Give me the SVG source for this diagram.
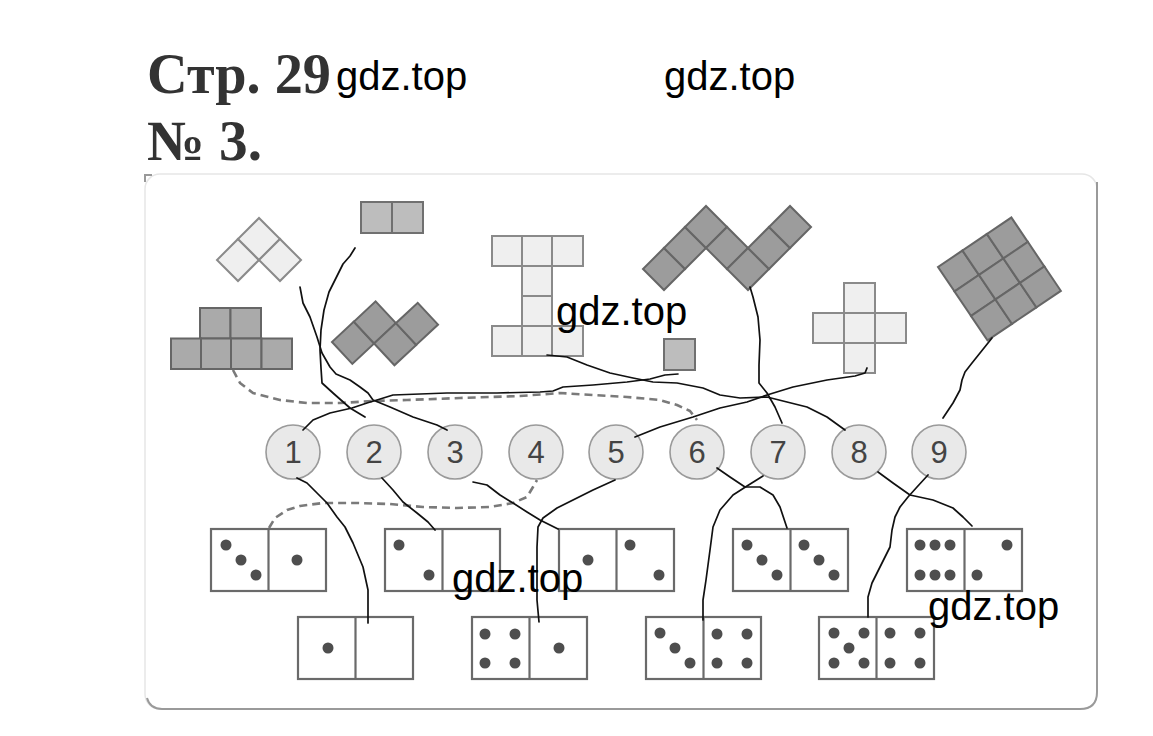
<svg xmlns="http://www.w3.org/2000/svg" width="1153" height="736" viewBox="0 0 1153 736">
<style>
.title{font-family:"Liberation Serif","Times New Roman",serif;font-weight:bold;fill:#333}
.wm{font-family:"Liberation Sans",Arial,sans-serif;font-size:40px;fill:#000}
.lt{fill:#efefef;stroke:#8a8a8a;stroke-width:2}
.g1{fill:#bdbdbd;stroke:#707070;stroke-width:2}
.g2{fill:#aaaaaa;stroke:#666;stroke-width:2}
.g3{fill:#9c9c9c;stroke:#666;stroke-width:2}
.num circle{fill:#e9e9e9;stroke:#9a9a9a;stroke-width:1.6}
.num text{font-family:"Liberation Sans",Arial,sans-serif;font-size:31px;fill:#444;text-anchor:middle}
.dom rect,.dom line{fill:#fff;stroke:#6a6a6a;stroke-width:2.2}
.dom circle{fill:#4e4e4e}
.cn path{fill:none;stroke:#111;stroke-width:1.7;stroke-linejoin:round;stroke-linecap:round}
.cn path.d{stroke:#7a7a7a;stroke-width:2.6;stroke-dasharray:8 5;stroke-linecap:butt}
</style>

<!-- frame -->
<rect x="145" y="174" width="952" height="535" rx="15" fill="none" stroke="#e6e6e6" stroke-width="1.5"/>
<path d="M147,698 Q150,709 162,709 H1080 Q1097,709 1097,692 V182" fill="none" stroke="#9a9a9a" stroke-width="2"/>
<path d="M145,182 L145,175 L152,175" fill="none" stroke="#999" stroke-width="2"/>

<!-- titles -->
<text class="title" x="147" y="93" font-size="57" textLength="184" lengthAdjust="spacingAndGlyphs">Стр. 29</text>
<text class="title" x="147" y="160" font-size="57" textLength="115" lengthAdjust="spacingAndGlyphs">№ 3.</text>
<text class="wm" x="336" y="90">gdz.top</text>
<text class="wm" x="664" y="90">gdz.top</text>

<!-- shapes -->
<g id="shape-diamond3" transform="translate(217,260) rotate(-45)">
  <rect class="lt" x="0" y="0" width="29.7" height="29.7"/>
  <rect class="lt" x="29.7" y="0" width="29.7" height="29.7"/>
  <rect class="lt" x="29.7" y="29.7" width="29.7" height="29.7"/>
</g>
<g id="shape-domino2">
  <rect class="g1" x="361" y="202" width="31" height="31"/>
  <rect class="g1" x="392" y="202" width="31" height="31"/>
</g>
<g id="shape-pyramid6">
  <rect class="g2" x="200" y="308" width="30.5" height="30.5"/>
  <rect class="g2" x="230.5" y="308" width="30.5" height="30.5"/>
  <rect class="g2" x="171" y="338.5" width="30" height="30.5"/>
  <rect class="g2" x="201" y="338.5" width="30" height="30.5"/>
  <rect class="g2" x="231" y="338.5" width="30.5" height="30.5"/>
  <rect class="g2" x="261.5" y="338.5" width="30.5" height="30.5"/>
</g>
<g id="shape-zigzag4" transform="translate(332,342) rotate(-43)">
  <rect class="g3" x="0" y="0" width="29.8" height="29.8"/>
  <rect class="g3" x="29.8" y="0" width="29.8" height="29.8"/>
  <rect class="g3" x="29.8" y="29.8" width="29.8" height="29.8"/>
  <rect class="g3" x="59.6" y="29.8" width="29.8" height="29.8"/>
</g>
<g id="shape-I8">
  <rect class="lt" x="492" y="236" width="30" height="30"/>
  <rect class="lt" x="522" y="236" width="30" height="30"/>
  <rect class="lt" x="552" y="236" width="31" height="30"/>
  <rect class="lt" x="522" y="266" width="30" height="30"/>
  <rect class="lt" x="522" y="296" width="30" height="30"/>
  <rect class="lt" x="492" y="326" width="30" height="30"/>
  <rect class="lt" x="522" y="326" width="30" height="30"/>
  <rect class="lt" x="552" y="326" width="31" height="30"/>
</g>
<g id="shape-square1">
  <rect class="g1" x="664" y="339" width="31" height="31"/>
</g>
<g id="shape-M7" transform="translate(643,269) rotate(-45)">
  <rect class="g3" x="0" y="0" width="29.7" height="29.7"/>
  <rect class="g3" x="29.7" y="0" width="29.7" height="29.7"/>
  <rect class="g3" x="59.4" y="0" width="29.7" height="29.7"/>
  <rect class="g3" x="59.4" y="29.7" width="29.7" height="29.7"/>
  <rect class="g3" x="59.4" y="59.4" width="29.7" height="29.7"/>
  <rect class="g3" x="89.1" y="59.4" width="29.7" height="29.7"/>
  <rect class="g3" x="118.8" y="59.4" width="29.7" height="29.7"/>
</g>
<g id="shape-cross5">
  <rect class="lt" x="844" y="283" width="31" height="30"/>
  <rect class="lt" x="813" y="313" width="31" height="30"/>
  <rect class="lt" x="844" y="313" width="31" height="30"/>
  <rect class="lt" x="875" y="313" width="31" height="30"/>
  <rect class="lt" x="844" y="343" width="31" height="30"/>
</g>
<g id="shape-square9" transform="translate(938,267) rotate(-34)">
  <rect class="g3" x="0" y="0" width="29.5" height="29.5"/>
  <rect class="g3" x="29.5" y="0" width="29.5" height="29.5"/>
  <rect class="g3" x="59" y="0" width="29.5" height="29.5"/>
  <rect class="g3" x="0" y="29.5" width="29.5" height="29.5"/>
  <rect class="g3" x="29.5" y="29.5" width="29.5" height="29.5"/>
  <rect class="g3" x="59" y="29.5" width="29.5" height="29.5"/>
  <rect class="g3" x="0" y="59" width="29.5" height="29.5"/>
  <rect class="g3" x="29.5" y="59" width="29.5" height="29.5"/>
  <rect class="g3" x="59" y="59" width="29.5" height="29.5"/>
</g>

<!-- number circles -->
<g id="n1" class="num"><circle cx="293" cy="452" r="27"/><text x="293" y="463">1</text></g>
<g id="n2" class="num"><circle cx="374" cy="452" r="27"/><text x="374" y="463">2</text></g>
<g id="n3" class="num"><circle cx="455" cy="452" r="27"/><text x="455" y="463">3</text></g>
<g id="n4" class="num"><circle cx="536" cy="452" r="27"/><text x="536" y="463">4</text></g>
<g id="n5" class="num"><circle cx="616" cy="452" r="27"/><text x="616" y="463">5</text></g>
<g id="n6" class="num"><circle cx="697" cy="452" r="27"/><text x="697" y="463">6</text></g>
<g id="n7" class="num"><circle cx="778" cy="452" r="27"/><text x="778" y="463">7</text></g>
<g id="n8" class="num"><circle cx="859" cy="452" r="27"/><text x="859" y="463">8</text></g>
<g id="n9" class="num"><circle cx="939" cy="452" r="27"/><text x="939" y="463">9</text></g>

<!-- dominoes row 1 -->
<g id="domA" class="dom">
  <rect x="211" y="529" width="115" height="62"/><line x1="268.5" y1="529" x2="268.5" y2="591"/>
  <circle cx="226" cy="545" r="5.5"/><circle cx="241" cy="560" r="5.5"/><circle cx="256" cy="575" r="5.5"/>
  <circle cx="297" cy="560" r="5.5"/>
</g>
<g id="domB" class="dom">
  <rect x="385" y="529" width="115" height="62"/><line x1="442.5" y1="529" x2="442.5" y2="591"/>
  <circle cx="399" cy="545" r="5.5"/><circle cx="429" cy="575" r="5.5"/>
</g>
<g id="domC" class="dom">
  <rect x="559" y="529" width="115" height="62"/><line x1="616.5" y1="529" x2="616.5" y2="591"/>
  <circle cx="588" cy="560" r="5.5"/>
  <circle cx="630" cy="545" r="5.5"/><circle cx="659" cy="575" r="5.5"/>
</g>
<g id="domD" class="dom">
  <rect x="733" y="529" width="115" height="62"/><line x1="790.5" y1="529" x2="790.5" y2="591"/>
  <circle cx="747" cy="545" r="5.5"/><circle cx="762" cy="560" r="5.5"/><circle cx="777" cy="575" r="5.5"/>
  <circle cx="804" cy="545" r="5.5"/><circle cx="819" cy="560" r="5.5"/><circle cx="834" cy="575" r="5.5"/>
</g>
<g id="domE" class="dom">
  <rect x="907" y="529" width="115" height="62"/><line x1="964.5" y1="529" x2="964.5" y2="591"/>
  <circle cx="920" cy="545" r="5.5"/><circle cx="935" cy="545" r="5.5"/><circle cx="950" cy="545" r="5.5"/>
  <circle cx="920" cy="575" r="5.5"/><circle cx="935" cy="575" r="5.5"/><circle cx="950" cy="575" r="5.5"/>
  <circle cx="1007" cy="545" r="5.5"/><circle cx="977" cy="575" r="5.5"/>
</g>
<!-- dominoes row 2 -->
<g id="domF" class="dom">
  <rect x="298" y="617" width="115" height="62"/><line x1="355.5" y1="617" x2="355.5" y2="679"/>
  <circle cx="328" cy="648" r="5.5"/>
</g>
<g id="domG" class="dom">
  <rect x="472" y="617" width="115" height="62"/><line x1="529.5" y1="617" x2="529.5" y2="679"/>
  <circle cx="485" cy="634" r="5.5"/><circle cx="515" cy="634" r="5.5"/><circle cx="485" cy="663" r="5.5"/><circle cx="515" cy="663" r="5.5"/>
  <circle cx="559" cy="648" r="5.5"/>
</g>
<g id="domH" class="dom">
  <rect x="646" y="617" width="115" height="62"/><line x1="703.5" y1="617" x2="703.5" y2="679"/>
  <circle cx="660" cy="633" r="5.5"/><circle cx="675" cy="648" r="5.5"/><circle cx="690" cy="663" r="5.5"/>
  <circle cx="717" cy="634" r="5.5"/><circle cx="747" cy="634" r="5.5"/><circle cx="717" cy="663" r="5.5"/><circle cx="747" cy="663" r="5.5"/>
</g>
<g id="domI" class="dom">
  <rect x="819" y="617" width="115" height="62"/><line x1="876.5" y1="617" x2="876.5" y2="679"/>
  <circle cx="834" cy="633" r="5.5"/><circle cx="864" cy="633" r="5.5"/><circle cx="849" cy="648" r="5.5"/><circle cx="834" cy="663" r="5.5"/><circle cx="864" cy="663" r="5.5"/>
  <circle cx="890" cy="633" r="5.5"/><circle cx="920" cy="633" r="5.5"/><circle cx="890" cy="663" r="5.5"/><circle cx="920" cy="663" r="5.5"/>
</g>

<!-- connectors -->
<g id="connectors" class="cn">
  <path class="d" d="M233,370 L240,383 L253,393 L280,400 L307,403 L340,403 L373,401 L407,400 L460,398 L520,396 L560,393 L593,395 L627,397 L660,400 L677,405 L690,411 L697,420"/>
  <path class="d" d="M269,528 L275,518 L287,510 L300,506 L323,503 L357,503 L390,504 L423,507 L457,508 L490,507 L513,503 L527,497 L533,487 L537,480"/>
  <path d="M303,430 L313,420 L330,413 L352,408 L367,403 L377,400 L393,395 L420,394 L447,393 L497,393 L540,392 L553,391 L563,387 L593,385 L627,382 L650,379 L665,375 L678,374"/>
  <path d="M300,287 L303,303 L310,317 L317,337 L322,353 L330,367 L336,374 L350,380 L360,387 L368,393 L373,400 L390,407 L413,417 L437,425 L447,430"/>
  <path d="M355,248 L350,256 L343,264 L336,278 L329,292 L324,310 L321,330 L320,350 L321,368 L322,383 L333,393 L350,408 L365,417"/>
  <path d="M547,355 L567,357 L587,365 L610,373 L633,378 L653,382 L677,383 L703,388 L720,395 L740,398 L767,397 L787,402 L807,407 L827,417 L845,430"/>
  <path d="M635,437 L660,427 L693,417 L720,408 L747,402 L767,395 L793,387 L827,380 L855,376 L865,373 L867,368"/>
  <path d="M750,287 L753,297 L758,317 L760,340 L759,365 L759,383 L767,393 L775,407 L782,423"/>
  <path d="M992,338 L988,343 L980,353 L972,363 L965,372 L962,380 L960,390 L953,403 L943,418"/>
  <path d="M297,478 L307,483 L317,493 L327,503 L337,517 L345,527 L353,543 L363,567 L368,590 L368,623"/>
  <path d="M382,478 L393,490 L403,502 L417,513 L428,522 L435,530"/>
  <path d="M473,482 L487,485 L500,495 L513,503 L527,512 L540,520 L558,529"/>
  <path d="M615,480 L593,490 L573,500 L557,508 L543,518 L538,527 L537,547 L537,573 L537,600 L539,622"/>
  <path d="M717,468 L730,477 L745,487 L760,487 L773,495 L780,507 L787,528"/>
  <path d="M763,476 L747,486 L733,495 L720,510 L713,527 L710,550 L706,580 L703,600 L703,620"/>
  <path d="M878,472 L893,483 L910,495 L933,500 L953,508 L963,517 L972,526"/>
  <path d="M928,475 L917,487 L908,497 L900,507 L895,517 L892,530 L890,547 L880,567 L872,583 L868,597 L868,617"/>
</g>

<!-- watermarks -->
<text class="wm" x="556" y="325">gdz.top</text>
<text class="wm" x="452" y="592">gdz.top</text>
<text class="wm" x="928" y="620">gdz.top</text>
</svg>
